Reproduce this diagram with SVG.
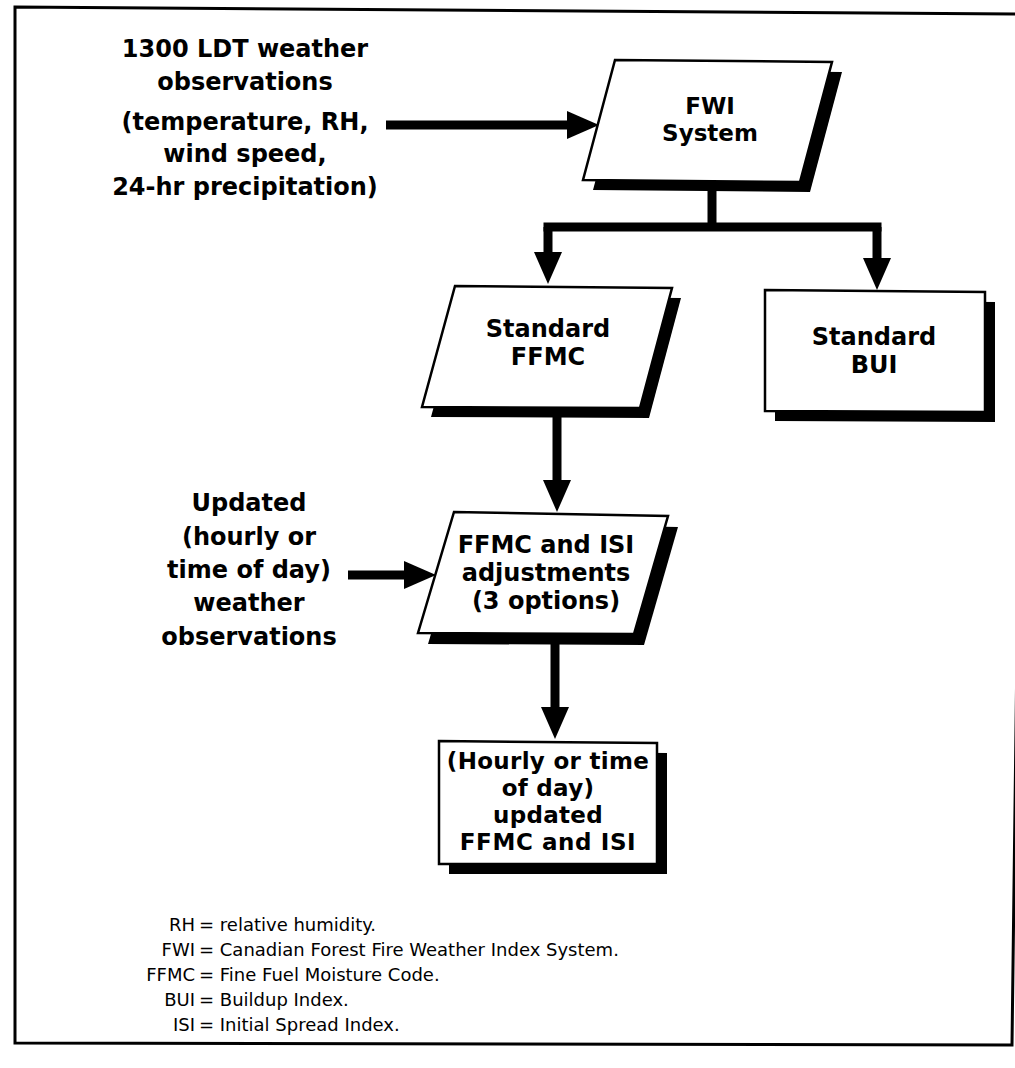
<svg xmlns="http://www.w3.org/2000/svg" width="1015" height="1068" viewBox="0 0 1015 1068">
<defs>
<style>
.frame{fill:none;stroke:#000;stroke-width:3}
.box{fill:#fff;stroke:#000;stroke-width:2.5;stroke-linejoin:miter}
.shadow{fill:#000}
.conn{fill:none;stroke:#000;stroke-width:9}
.lbl{font-family:"DejaVu Sans","Liberation Sans",sans-serif;font-weight:bold;text-anchor:middle;fill:#000}
.lg{font-family:"DejaVu Sans","Liberation Sans",sans-serif;font-size:18px;fill:#000}
</style>
<marker id="ah" markerUnits="userSpaceOnUse" markerWidth="32" markerHeight="28" viewBox="0 -14 32 28" refX="0" refY="0" orient="auto">
<path d="M0,-14 L32,0 L0,14 z" fill="#000"/>
</marker>
</defs>
<rect width="1015" height="1068" fill="#fff"/>
<polygon class="frame" points="15,7 1025,14 1012,1045 15,1043"/>

<g id="connectors">
<path class="conn" d="M386,125 H567" marker-end="url(#ah)"/>
<path class="conn" d="M712,188 V227"/>
<path class="conn" d="M543.5,227 H881.5"/>
<path class="conn" d="M548,227 V252" marker-end="url(#ah)"/>
<path class="conn" d="M877,227 V258" marker-end="url(#ah)"/>
<path class="conn" d="M557,412 V480" marker-end="url(#ah)"/>
<path class="conn" d="M348,575 H404" marker-end="url(#ah)"/>
<path class="conn" d="M555,640 V707" marker-end="url(#ah)"/>
</g>

<g id="input-1300">
<text class="lbl" font-size="24" x="245" y="57">1300 LDT weather</text>
<text class="lbl" font-size="24" x="245" y="90">observations</text>
<text class="lbl" font-size="24" x="245" y="130">(temperature, RH,</text>
<text class="lbl" font-size="24" x="245" y="162">wind speed,</text>
<text class="lbl" font-size="24" x="245" y="195">24-hr precipitation)</text>
</g>

<g id="fwi-system">
<polygon class="shadow" points="625,70 842,72 810,192 593,190"/>
<polygon class="box" points="615,60 832,62 800,182 583,180"/>
<text class="lbl" font-size="23" x="710" y="114">FWI</text>
<text class="lbl" font-size="23" x="710" y="141">System</text>
</g>

<g id="standard-ffmc">
<polygon class="shadow" points="464,296 681,298 649,418 431,417"/>
<polygon class="box" points="455,286 672,288 640,408 422,407"/>
<text class="lbl" font-size="24" x="548" y="337">Standard</text>
<text class="lbl" font-size="24" x="548" y="365">FFMC</text>
</g>

<g id="standard-bui">
<polygon class="shadow" points="775,300 995,302 995,422 775,421"/>
<polygon class="box" points="765,290 985,292 985,412 765,411"/>
<text class="lbl" font-size="24" x="874" y="345">Standard</text>
<text class="lbl" font-size="24" x="874" y="373">BUI</text>
</g>

<g id="input-updated">
<text class="lbl" font-size="24" x="249" y="511">Updated</text>
<text class="lbl" font-size="24" x="249" y="545">(hourly or</text>
<text class="lbl" font-size="24" x="249" y="578">time of day)</text>
<text class="lbl" font-size="24" x="249" y="611">weather</text>
<text class="lbl" font-size="24" x="249" y="645">observations</text>
</g>

<g id="ffmc-isi-adjustments">
<polygon class="shadow" points="464,523 678,527 644,645 428,644"/>
<polygon class="box" points="454,512 668,516 634,634 418,633"/>
<text class="lbl" font-size="24" x="546" y="553">FFMC and ISI</text>
<text class="lbl" font-size="24" x="546" y="581">adjustments</text>
<text class="lbl" font-size="24" x="546" y="609">(3 options)</text>
</g>

<g id="updated-ffmc-isi">
<polygon class="shadow" points="449,751 667,753 667,874 449,874"/>
<polygon class="box" points="439,741 657,743 657,864 439,864"/>
<text class="lbl" font-size="23" x="548" y="769" letter-spacing="0.3">(Hourly or time</text>
<text class="lbl" font-size="23" x="548" y="796" letter-spacing="0.3">of day)</text>
<text class="lbl" font-size="23" x="548" y="823" letter-spacing="0.3">updated</text>
<text class="lbl" font-size="23" x="548" y="850" letter-spacing="0.6">FFMC and ISI</text>
</g>

<g id="legend">
<text class="lg" x="195" y="931" text-anchor="end">RH</text>
<text class="lg" x="199" y="931">= relative humidity.</text>
<text class="lg" x="195" y="956" text-anchor="end">FWI</text>
<text class="lg" x="199" y="956">= Canadian Forest Fire Weather Index System.</text>
<text class="lg" x="195" y="981" text-anchor="end">FFMC</text>
<text class="lg" x="199" y="981">= Fine Fuel Moisture Code.</text>
<text class="lg" x="195" y="1006" text-anchor="end">BUI</text>
<text class="lg" x="199" y="1006">= Buildup Index.</text>
<text class="lg" x="195" y="1031" text-anchor="end">ISI</text>
<text class="lg" x="199" y="1031">= Initial Spread Index.</text>
</g>
</svg>
